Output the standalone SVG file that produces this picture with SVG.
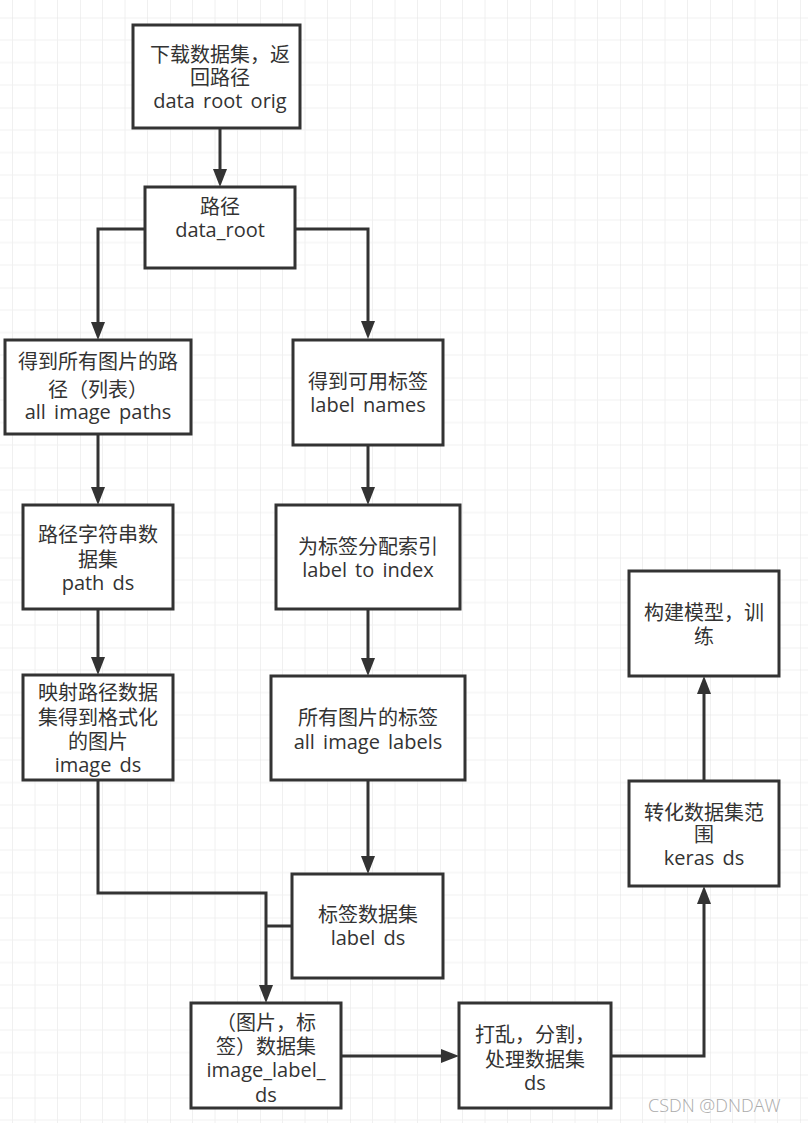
<svg xmlns="http://www.w3.org/2000/svg" width="808" height="1123" viewBox="0 0 808 1123">
<style>
.box{fill:#fff;stroke:#333;stroke-width:3}
.t{font-family:"Open Sans","Noto Sans CJK SC",sans-serif;font-size:20px;fill:#333;text-anchor:middle;word-spacing:3px}
.c{fill:none;stroke:#333;stroke-width:3}
.a{marker-end:url(#arr)}
.wm{font-family:"Open Sans","Liberation Sans",sans-serif;font-size:18px;font-weight:300;fill:#aaa}
</style>
<defs>
<pattern id="grid" patternUnits="userSpaceOnUse" x="-10" y="17.5" width="90" height="90">
<path d="M22.5,0V90M45,0V90M67.5,0V90M0,22.5H90M0,45H90M0,67.5H90" stroke="#f0f0f0" stroke-width="1" fill="none"/>
<path d="M0,0V90M0,0H90" stroke="#e3e3e3" stroke-width="1" fill="none"/>
</pattern>
<marker id="arr" markerUnits="userSpaceOnUse" markerWidth="18" markerHeight="14" viewBox="0 0 18 14" refX="8" refY="7" orient="auto">
<path d="M0,0L18,7L0,14z" fill="#333"/>
</marker>
</defs>
<rect width="808" height="1123" fill="#fff"/>
<rect width="808" height="1123" fill="url(#grid)"/>

<g id="connectors">
<path class="c a" d="M220,128V177"/>
<path class="c a" d="M145,229H98V330"/>
<path class="c a" d="M295,229H368V329"/>
<path class="c a" d="M98,434V495"/>
<path class="c a" d="M368,445V495"/>
<path class="c a" d="M98,609V665"/>
<path class="c a" d="M368,609V666"/>
<path class="c a" d="M368,780V864"/>
<path class="c a" d="M98,780V893H266V993"/>
<path class="c" d="M292,926H266"/>
<path class="c a" d="M341,1056H449"/>
<path class="c a" d="M611,1056H704V896"/>
<path class="c a" d="M704,780V686"/>
</g>

<g id="n1">
<rect class="box" x="133" y="25" width="167" height="103"/>
<text class="t" x="220" y="62">下载数据集，返</text>
<text class="t" x="220" y="85">回路径</text>
<text class="t" x="220" y="108">data root orig</text>
</g>
<g id="n2">
<rect class="box" x="145" y="187" width="150" height="81"/>
<text class="t" x="220" y="214">路径</text>
<text class="t" x="220" y="237">data_root</text>
</g>
<g id="n3">
<rect class="box" x="5" y="340" width="186" height="94"/>
<text class="t" x="98" y="369">得到所有图片的路</text>
<text class="t" x="98" y="397">径（列表）</text>
<text class="t" x="98" y="419">all image paths</text>
</g>
<g id="n4">
<rect class="box" x="293" y="340" width="150" height="105"/>
<text class="t" x="368" y="389">得到可用标签</text>
<text class="t" x="368" y="412">label names</text>
</g>
<g id="n5">
<rect class="box" x="23" y="505" width="150" height="104"/>
<text class="t" x="98" y="542">路径字符串数</text>
<text class="t" x="98" y="567">据集</text>
<text class="t" x="98" y="590">path ds</text>
</g>
<g id="n6">
<rect class="box" x="276" y="505" width="184" height="104"/>
<text class="t" x="368" y="554">为标签分配索引</text>
<text class="t" x="368" y="577">label to index</text>
</g>
<g id="n7">
<rect class="box" x="23" y="675" width="150" height="105"/>
<text class="t" x="98" y="700">映射路径数据</text>
<text class="t" x="98" y="725">集得到格式化</text>
<text class="t" x="98" y="749">的图片</text>
<text class="t" x="98" y="772">image ds</text>
</g>
<g id="n8">
<rect class="box" x="271" y="676" width="194" height="104"/>
<text class="t" x="368" y="725">所有图片的标签</text>
<text class="t" x="368" y="749">all image labels</text>
</g>
<g id="n9">
<rect class="box" x="292" y="874" width="151" height="104"/>
<text class="t" x="368" y="922">标签数据集</text>
<text class="t" x="368" y="945">label ds</text>
</g>
<g id="n10">
<rect class="box" x="191" y="1003" width="150" height="105"/>
<text class="t" x="266" y="1030">（图片，标</text>
<text class="t" x="266" y="1054">签）数据集</text>
<text class="t" x="266" y="1077">image_label_</text>
<text class="t" x="266" y="1102">ds</text>
</g>
<g id="n11">
<rect class="box" x="459" y="1003" width="152" height="105"/>
<text class="t" x="535" y="1042">打乱，分割，</text>
<text class="t" x="535" y="1067">处理数据集</text>
<text class="t" x="535" y="1090">ds</text>
</g>
<g id="n12">
<rect class="box" x="629" y="781" width="150" height="105"/>
<text class="t" x="704" y="820">转化数据集范</text>
<text class="t" x="704" y="842">围</text>
<text class="t" x="704" y="865">keras ds</text>
</g>
<g id="n13">
<rect class="box" x="629" y="571" width="150" height="105"/>
<text class="t" x="704" y="620">构建模型，训</text>
<text class="t" x="704" y="644">练</text>
</g>
<text class="wm" x="648" y="1112">CSDN @DNDAW</text>
</svg>
